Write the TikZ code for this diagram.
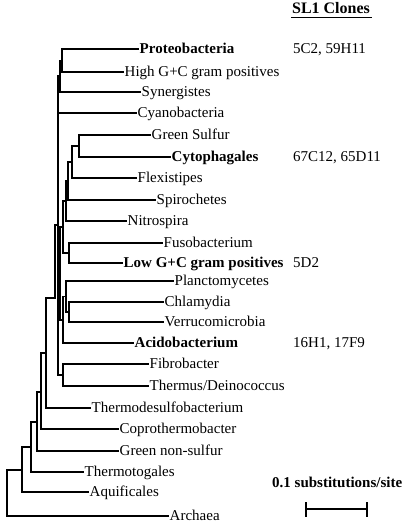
\documentclass[tikz,border=0pt]{standalone}
\usepackage{fontspec}
\setmainfont{Liberation Serif}
\begin{document}
\begin{tikzpicture}[x=1pt,y=-1pt,
  br/.style={draw=black, line width=1.1pt, line cap=rect},
  lab/.style={anchor=base west, inner sep=0pt, font=\fontsize{15}{18}\selectfont},
  blab/.style={anchor=base west, inner sep=0pt, font=\fontsize{15}{18}\selectfont\bfseries}]
\useasboundingbox (0,0) rectangle (407,529);
\newcommand\myleaf[5]{\coordinate (#1) at (#3,#2);
  \node[#5] (#1t) at (#3+1.5,#2+4.5) {#4};}
% leaves
\myleaf{P}{49}{138}{Proteobacteria}{blab}
\myleaf{HG}{72}{123}{High G+C gram positives}{lab}
\myleaf{Syn}{92}{140}{Synergistes}{lab}
\myleaf{Cy}{113}{136}{Cyanobacteria}{lab}
\myleaf{GS}{135}{150}{Green Sulfur}{lab}
\myleaf{Cyt}{157}{170}{Cytophagales}{blab}
\myleaf{Fl}{178}{136}{Flexistipes}{lab}
\myleaf{Sp}{200}{155}{Spirochetes}{lab}
\myleaf{Ni}{221}{126}{Nitrospira}{lab}
\myleaf{Fu}{243}{162}{Fusobacterium}{lab}
\myleaf{LG}{263}{122}{Low G+C gram positives}{blab}
\myleaf{Pl}{281}{173}{Planctomycetes}{lab}
\myleaf{Ch}{302}{163}{Chlamydia}{lab}
\myleaf{Ve}{322}{163}{Verrucomicrobia}{lab}
\myleaf{Ac}{343}{133}{Acidobacterium}{blab}
\myleaf{Fi}{364}{148}{Fibrobacter}{lab}
\myleaf{Th}{386}{148}{Thermus/Deinococcus}{lab}
\myleaf{Tds}{408}{90}{Thermodesulfobacterium}{lab}
\myleaf{Cop}{429}{118}{Coprothermobacter}{lab}
\myleaf{Gns}{451}{118}{Green non-sulfur}{lab}
\myleaf{Tt}{472}{83}{Thermotogales}{lab}
\myleaf{Aq}{492}{88}{Aquificales}{lab}
\myleaf{Ar}{516}{168}{Archaea}{lab}
% internal nodes
\coordinate (A) at (62,60.5);
\coordinate (B) at (60,76);
\coordinate (C) at (58,225);
\coordinate (E1) at (79,146);
\coordinate (E) at (72,162);
\coordinate (F) at (68,181);
\coordinate (G) at (66,201);
\coordinate (H) at (69,253);
\coordinate (I) at (63,227);
\coordinate (L1) at (69,312);
\coordinate (L) at (66,296.5);
\coordinate (M) at (63,320);
\coordinate (J) at (60,273);
\coordinate (FT) at (63,375);
\coordinate (N1) at (55,298);
\coordinate (X46) at (46,353);
\coordinate (X41) at (41,392);
\coordinate (X37) at (37,422);
\coordinate (X31) at (31,447);
\coordinate (X22) at (22,470);
\coordinate (R) at (7,493);
% branches
\draw[br] (A) |- (P); \draw[br] (A) |- (HG);
\draw[br] (B) |- (A); \draw[br] (B) |- (Syn);
\draw[br] (C) |- (B); \draw[br] (C) |- (Cy); \draw[br] (C) |- (J); \draw[br] (C) |- (FT);
\draw[br] (E1) |- (GS); \draw[br] (E1) |- (Cyt);
\draw[br] (E) |- (E1); \draw[br] (E) |- (Fl);
\draw[br] (F) |- (E); \draw[br] (F) |- (Sp);
\draw[br] (G) |- (F); \draw[br] (G) |- (Ni);
\draw[br] (H) |- (Fu); \draw[br] (H) |- (LG);
\draw[br] (I) |- (G); \draw[br] (I) |- (H);
\draw[br] (L1) |- (Ch); \draw[br] (L1) |- (Ve);
\draw[br] (L) |- (Pl); \draw[br] (L) |- (L1);
\draw[br] (M) |- (L); \draw[br] (M) |- (Ac);
\draw[br] (J) |- (I); \draw[br] (J) |- (M);
\draw[br] (FT) |- (Fi); \draw[br] (FT) |- (Th);
\draw[br] (X46) |- (N1) |- (C); \draw[br] (X46) |- (Tds);
\draw[br] (X41) |- (X46); \draw[br] (X41) |- (Cop);
\draw[br] (X37) |- (X41); \draw[br] (X37) |- (Gns);
\draw[br] (X31) |- (X37); \draw[br] (X31) |- (Tt);
\draw[br] (X22) |- (X31); \draw[br] (X22) |- (Aq);
\draw[br] (R) |- (X22); \draw[br] (R) |- (Ar);
% clones column
\node[anchor=base, inner sep=0pt, font=\fontsize{16}{19}\selectfont\bfseries] (SL) at (331,14) {SL1 Clones};
\coordinate (ul1) at (291,17.5); \coordinate (ul2) at (372,17.5);
\draw[line width=1.2pt] (ul1) -- (ul2);
\node[lab] (c1) at (293,53.5) {5C2, 59H11};
\node[lab] (c2) at (293,161.5) {67C12, 65D11};
\node[lab] (c3) at (293,267.5) {5D2};
\node[lab] (c4) at (293,347.5) {16H1, 17F9};
% scale bar
\node[blab] (sbl) at (272,487) {0.1 substitutions/site};
\coordinate (sb1) at (306,509); \coordinate (sb2) at (367,509);
\draw[line width=1.1pt] (sb1) -- (sb2);
\draw[line width=1.1pt] ([yshift=7pt]sb1) -- ([yshift=-8pt]sb1);
\draw[line width=1.1pt] ([yshift=7pt]sb2) -- ([yshift=-8pt]sb2);
\end{tikzpicture}
\end{document}
